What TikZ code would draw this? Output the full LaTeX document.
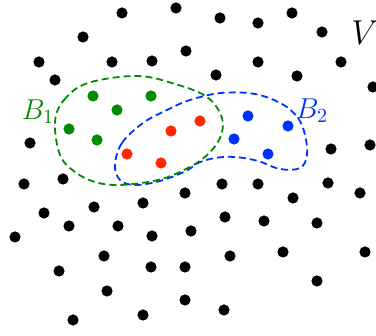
\documentclass[tikz,border=0pt]{standalone}
\usepackage{amsmath,amssymb}
\usepackage{tikz}
\definecolor{setgreen}{RGB}{0,140,0}
\definecolor{setred}{RGB}{255,40,0}
\definecolor{setblue}{RGB}{0,50,255}
\tikzset{
  ball/.style={line width=0.9pt,dash pattern=on 3.5pt off 2pt},
  vtx/.style={radius=2.8pt},
}

\begin{document}
\begin{tikzpicture}[x=0.5pt,y=-0.5pt]
  \useasboundingbox (0,0) rectangle (376,336);
  \draw[ball,setblue] plot[smooth cycle,tension=0.6] coordinates {
    (115,165) (122,143) (143,123) (167,110) (190,100) (221,93) (255,94)
    (282,104) (298,118) (305,135) (307,155) (300,168) (280,169) (258,161)
    (235,157) (215,158) (198,163) (186,171) (160,181) (135,185) (120,180)};
  \draw[ball,setgreen] plot[smooth cycle,tension=0.6] coordinates {
    (55,122) (64,100) (88,83) (137,76) (175,84) (207,97) (222,118)
    (220,138) (206,156) (186,169) (158,180) (120,185) (95,182) (75,172)
    (60,155)};
  \foreach \x/\y in {122/13,176/8,220/18,258/23,292/13,83/37,186/51,322/32,
      39/62,112/62,152/61,258/62,341/62,55/80,216/75,297/76,373/87,30/143,
      331/149,370/145,24/184,63/179,143/203,185/193,222/184,258/184,328/183,
      293/198,360/193,44/213,94/207,69/226,118/226,152/236,191/231,225/217,
      264/221,317/223,15/237,104/256,230/256,283/252,365/252,59/271,151/267,
      185/267,317/281,107/291,185/300,73/320,143/315,224/310}
    \fill[vtx] (\x,\y) circle;
  \foreach \x/\y in {93/96,151/96,117/110,69/129,97/140}
    \fill[vtx,setgreen] (\x,\y) circle;
  \foreach \x/\y in {171/131,200/121,127/154,161/163}
    \fill[vtx,setred] (\x,\y) circle;
  \foreach \x/\y in {248/116,288/126,234/139,268/154}
    \fill[vtx,setblue] (\x,\y) circle;
  \node[setgreen,font=\Large] (lblB1) at (38,112) {$B_1$};
  \node[setblue,font=\Large] (lblB2) at (312,111) {$B_2$};
  \node[font=\LARGE] (lblV) at (365,33) {$V$};
\end{tikzpicture}
\end{document}
